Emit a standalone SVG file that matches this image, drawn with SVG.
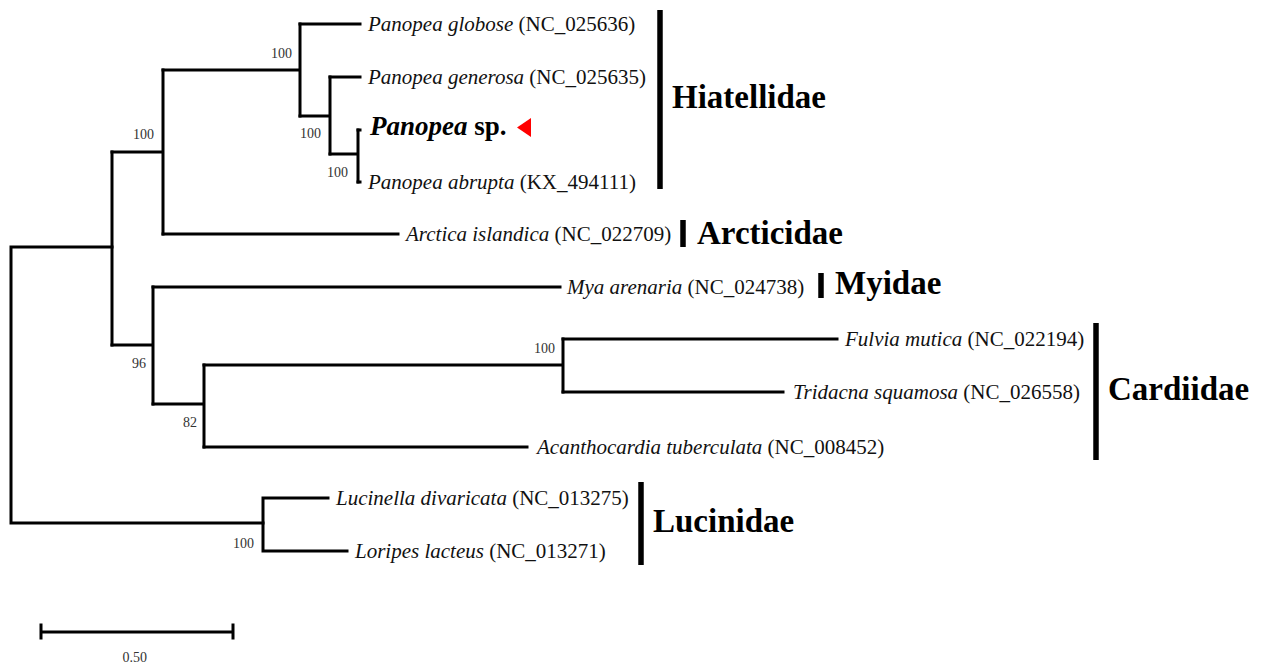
<svg xmlns="http://www.w3.org/2000/svg" width="1263" height="668" viewBox="0 0 1263 668">
<style>
.br{fill:none;stroke:#000;stroke-width:3;stroke-linecap:square}
.bar{fill:none;stroke:#000;stroke-width:5.5}
.sp{font-family:"Liberation Serif","Times New Roman",serif;font-size:21px;fill:#111}
.it{font-style:italic}
.bs{font-family:"Liberation Serif","Times New Roman",serif;font-size:27px;font-weight:bold;fill:#000}
.fam{font-family:"Liberation Serif","Times New Roman",serif;font-size:33px;font-weight:bold;fill:#000}
.sup{font-family:"Liberation Serif","Times New Roman",serif;font-size:14px;fill:#333;text-anchor:end}
</style>
<rect width="1263" height="668" fill="#fff"/>
<g id="connectors">
<path class="br" d="M112,247 H11 V523 H263"/>
<path class="br" d="M112,152 V345"/>
<path class="br" d="M112,152 H163 M163,70 V234"/>
<path class="br" d="M163,70 H300 M300,24 V116"/>
<path class="br" d="M300,24 H360"/>
<path class="br" d="M300,116 H330 M330,77 V154"/>
<path class="br" d="M330,77 H360"/>
<path class="br" d="M330,154 H358 M358,130 V182"/>
<path class="br" d="M358,130 H360 M358,182 H360"/>
<path class="br" d="M163,234 H398"/>
<path class="br" d="M112,345 H153 M153,287 V404"/>
<path class="br" d="M153,287 H560"/>
<path class="br" d="M153,404 H204 M204,365 V447"/>
<path class="br" d="M204,365 H563 M563,339 V392"/>
<path class="br" d="M563,339 H837 M563,392 H783"/>
<path class="br" d="M204,447 H527"/>
<path class="br" d="M263,498 V551 M263,498 H328 M263,551 H347"/>
</g>
<g id="support">
<text class="sup" x="292" y="58">100</text>
<text class="sup" x="321" y="138">100</text>
<text class="sup" x="348" y="177">100</text>
<text class="sup" x="154" y="139">100</text>
<text class="sup" x="146" y="368">96</text>
<text class="sup" x="197" y="427">82</text>
<text class="sup" x="555" y="353">100</text>
<text class="sup" x="254" y="548">100</text>
</g>
<g id="n-globose"><text class="sp" x="368" y="31"><tspan class="it">Panopea globose</tspan> (NC_025636)</text></g>
<g id="n-generosa"><text class="sp" x="368" y="84"><tspan class="it">Panopea generosa</tspan> (NC_025635)</text></g>
<g id="n-panopea-sp"><text class="bs" x="370" y="135"><tspan font-style="italic">Panopea</tspan> sp.</text>
<polygon points="517,127.5 531,118 531,137" fill="#f00"/></g>
<g id="n-abrupta"><text class="sp" x="368" y="189"><tspan class="it">Panopea abrupta</tspan> (KX_494111)</text></g>
<g id="n-arctica"><text class="sp" x="406" y="241"><tspan class="it">Arctica islandica</tspan> (NC_022709)</text></g>
<g id="n-mya"><text class="sp" x="567" y="294"><tspan class="it">Mya arenaria</tspan> (NC_024738)</text></g>
<g id="n-fulvia"><text class="sp" x="845" y="346"><tspan class="it">Fulvia mutica</tspan> (NC_022194)</text></g>
<g id="n-tridacna"><text class="sp" x="793" y="399"><tspan class="it">Tridacna squamosa</tspan> (NC_026558)</text></g>
<g id="n-acanthocardia"><text class="sp" x="537" y="454"><tspan class="it">Acanthocardia tuberculata</tspan> (NC_008452)</text></g>
<g id="n-lucinella"><text class="sp" x="336" y="505"><tspan class="it">Lucinella divaricata</tspan> (NC_013275)</text></g>
<g id="n-loripes"><text class="sp" x="355" y="558"><tspan class="it">Loripes lacteus</tspan> (NC_013271)</text></g>
<g id="f-hiatellidae"><line class="bar" x1="660" y1="10" x2="660" y2="189"/><text class="fam" x="672" y="108">Hiatellidae</text></g>
<g id="f-arcticidae"><line class="bar" x1="683" y1="220" x2="683" y2="247"/><text class="fam" x="697" y="244">Arcticidae</text></g>
<g id="f-myidae"><line class="bar" x1="821" y1="273" x2="821" y2="298"/><text class="fam" x="835" y="294">Myidae</text></g>
<g id="f-cardiidae"><line class="bar" x1="1096" y1="323" x2="1096" y2="460"/><text class="fam" x="1108" y="400">Cardiidae</text></g>
<g id="f-lucinidae"><line class="bar" x1="641" y1="482" x2="641" y2="565"/><text class="fam" x="653" y="532">Lucinidae</text></g>
<g id="scale">
<path class="br" d="M41,632 H233 M41,625 V638 M233,625 V638"/>
<text class="sup" x="147" y="662">0.50</text>
</g>
</svg>
